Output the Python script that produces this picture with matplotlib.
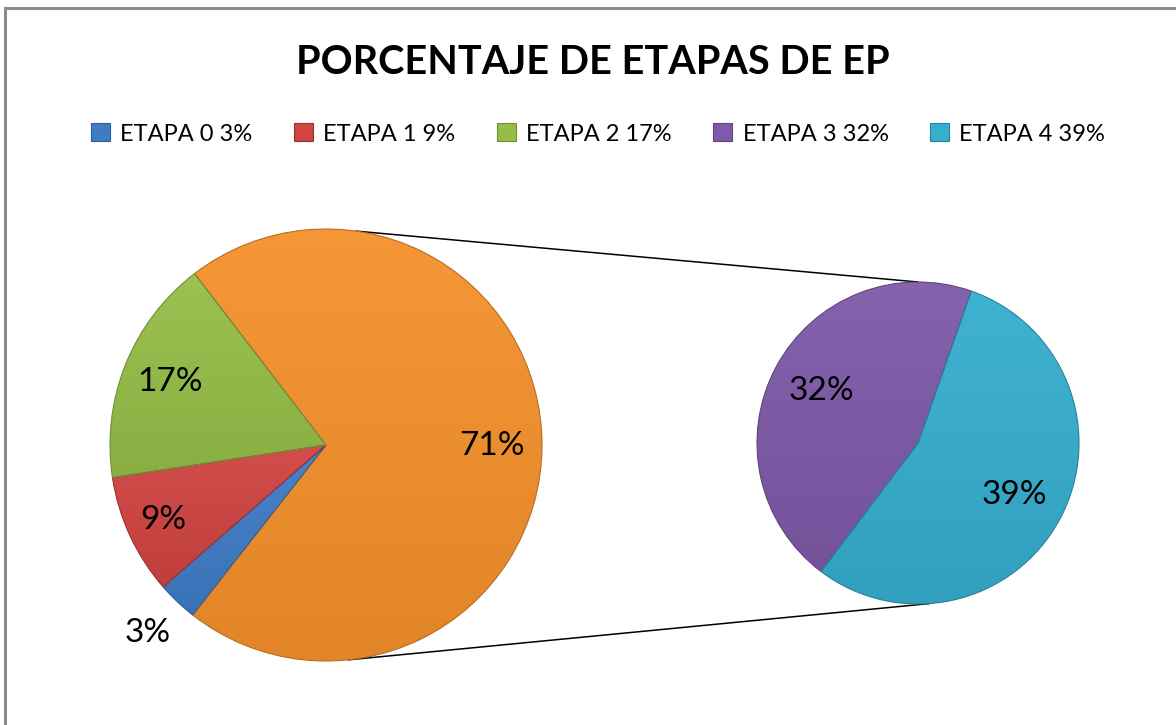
import numpy as np
import matplotlib
matplotlib.use('Agg')
import matplotlib.pyplot as plt
from matplotlib.patches import Patch, Rectangle
from matplotlib.colors import to_rgb

plt.rcParams['font.family'] = ['Lato', 'DejaVu Sans']

# data
etapas = ['ETAPA 0', 'ETAPA 1', 'ETAPA 2', 'ETAPA 3', 'ETAPA 4']
porcentajes = [3, 9, 17, 32, 39]
colores = ['#3F7CC6', '#D04442', '#95BE48', '#7E5AA8', '#36AECF']
color_otro = '#F5912C'

main_vals = [sum(porcentajes[3:])] + porcentajes[:3]     # "other" slice first
main_cols = [color_otro] + colores[:3]
main_lbls = [str(sum(porcentajes[3:])) + '%'] + [str(p) + '%' for p in porcentajes[:3]]
sec_vals = porcentajes[3:]
sec_cols = colores[3:]
sec_lbls = [str(p) + '%' for p in porcentajes[3:]]

H = 725
fig = plt.figure(figsize=(11.76, 7.25), dpi=100)
ax = fig.add_axes([0, 0, 1, 1])


def mix(c, t):
    # t > 0 lightens, t < 0 darkens
    c = np.array(to_rgb(c))
    if t > 0:
        return c + (1 - c) * t
    return c * (1 + t)


def shade(w, col):
    # vertical gradient clipped to the wedge, for the excel bevel look
    top, bot = mix(col, 0.05), mix(col, -0.08)
    n = 64
    t = np.linspace(0, 1, n)[:, None]
    img = (bot[None, :] * (1 - t) + top[None, :] * t)[:, None, :]
    bb = w.get_path().get_extents(w.get_patch_transform())
    im = ax.imshow(img, extent=(bb.x0, bb.x1, bb.y0, bb.y1), origin='lower',
                   aspect='auto', zorder=2, interpolation='bilinear')
    im.set_clip_path(w)


def draw_pie(vals, cols, lbls, cx, cy, r, start, ccw, dists):
    wedges, _ = ax.pie(vals, colors=cols, center=(cx, cy), radius=r,
                       startangle=start, counterclock=ccw,
                       wedgeprops=dict(linewidth=0.8))
    for w, c, lb, d in zip(wedges, cols, lbls, dists):
        w.set_edgecolor(mix(c, -0.25))
        w.set_zorder(3)
        w.set_facecolor('none')
        shade(w, c)
        a = np.deg2rad((w.theta1 + w.theta2) / 2)
        ax.text(cx + d * r * np.cos(a), cy + d * r * np.sin(a), lb,
                fontsize=24, ha='center', va='center', zorder=5)
    return wedges


m_cx, m_cy, m_r = 326, H - 445, 216
s_cx, s_cy, s_r = 918, H - 443, 161

draw_pie(main_vals, main_cols, main_lbls, m_cx, m_cy, m_r, 127.5, False,
         [0.77, 1.2, 0.83, 0.78])
draw_pie(sec_vals, sec_cols, sec_lbls, s_cx, s_cy, s_r, 70.7, True,
         [0.68, 0.68])

# connector lines
for a1, a2 in [(82, 90), (-84, -86)]:
    p1 = (m_cx + m_r * np.cos(np.deg2rad(a1)), m_cy + m_r * np.sin(np.deg2rad(a1)))
    p2 = (s_cx + s_r * np.cos(np.deg2rad(a2)), s_cy + s_r * np.sin(np.deg2rad(a2)))
    ax.plot([p1[0], p2[0]], [p1[1], p2[1]], color='black', lw=1.1, zorder=1)

ax.set_xlim(0, 1176)
ax.set_ylim(0, H)
ax.set_aspect('auto')
ax.axis('off')

# chart border
ax.add_patch(Rectangle((5, -20), 1300, H - 8 + 20, fill=False,
                       edgecolor='#8c8c8c', lw=2.2, zorder=0))

fig.text(593 / 1176, 1 - 62 / H, 'PORCENTAJE DE ETAPAS DE EP',
         fontsize=28.5, fontweight='bold', ha='center', va='center')

handles = [Patch(facecolor=c, edgecolor=mix(c, -0.25), lw=0.8) for c in colores]
labels = [e + ' ' + str(p) + '%' for e, p in zip(etapas, porcentajes)]
fig.legend(handles, labels, loc='center', bbox_to_anchor=(598 / 1176, 1 - 134 / H),
           ncol=5, frameon=False, fontsize=17, handlelength=0.8,
           handleheight=0.8, handletextpad=0.45, columnspacing=1.75)

fig.savefig('out.png', dpi=100, facecolor='white')
